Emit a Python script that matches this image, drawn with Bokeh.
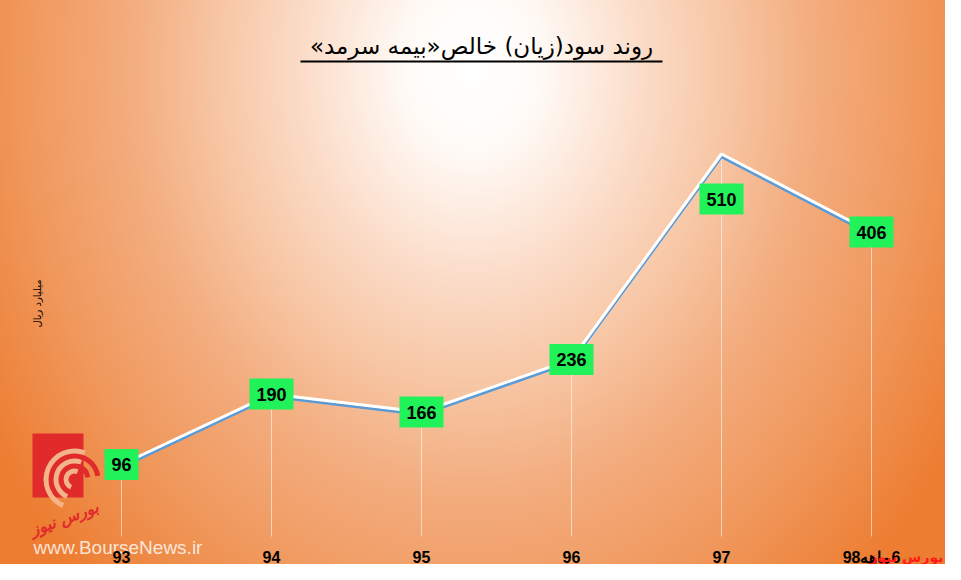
from bokeh.plotting import figure
from bokeh.models import ColumnDataSource, Label, Range1d, FixedTicker, BoxAnnotation
from bokeh.transform import dodge
from bokeh.embed import file_html
from bokeh.resources import INLINE
from bokeh.core.properties import value

# ---------------- data ----------------
categories = ["93", "94", "95", "96", "97", "\u200f6ماهه98"]
profit = [96, 190, 166, 236, 510, 406]
value_labels = ["96", "190", "166", "236", "510", "406"]
title_text = "روند سود(زیان) خالص«بیمه سرمد»\u200f"
y_label_text = "میلیارد ریال"
logo_text = "بورس نیوز"
site_text = "www.BourseNews.ir"

# ---------------- layout / style ----------------
W, H = 945, 564
ZERO_PX = 536.0          # canvas row of value 0
PX_PER_CAT = 150.0
FIRST_CAT_PX = 121.0
PX_PER_UNIT = 0.75
X0 = -FIRST_CAT_PX / PX_PER_CAT
X1 = (W - FIRST_CAT_PX) / PX_PER_CAT
Y0 = -(H - ZERO_PX) / PX_PER_UNIT
Y1 = ZERO_PX / PX_PER_UNIT
label_dy = [0, 0, 0, 0, 45, 0]   # pixel offset of each value box


def px(cx, cy):
    """canvas pixel -> data coordinates (decorations only)"""
    return X0 + cx / PX_PER_CAT, (ZERO_PX - cy) / PX_PER_UNIT


p = figure(width=W, height=H, x_range=Range1d(X0, X1), y_range=Range1d(Y0, Y1),
           toolbar_location=None, output_backend="svg", y_axis_location=None,
           min_border_left=0, min_border_right=0, min_border_top=0,
           min_border_bottom=0, outline_line_color=None,
           background_fill_color=None, border_fill_color=None)
p.styles = {"background": "radial-gradient(ellipse 60% 125% at 50% 12%, #ffffff 0%, "
                          "#fffaf6 12%, #fbdcc8 30%, #f7c6a4 45%, #f3ad7f 60%, "
                          "#f0975b 80%, #ee8a46 90%, #ed7d31 100%)"}
p.xgrid.visible = False
p.ygrid.visible = False

ax = p.xaxis[0]
ax.fixed_location = 0
ax.ticker = FixedTicker(ticks=list(range(len(categories))))
ax.major_label_overrides = {i: c for i, c in enumerate(categories)}
ax.axis_line_color = None
ax.major_tick_line_color = None
ax.minor_tick_line_color = None
ax.major_tick_in = 0
ax.major_tick_out = 0
ax.major_label_standoff = 12
ax.major_label_text_font = "Liberation Sans"
ax.major_label_text_font_style = "bold"
ax.major_label_text_font_size = "16px"
ax.major_label_text_color = "black"

# ---- logo watermark (behind the chart) ----
l0, t0 = px(32, 433)
r0, b0 = px(83, 497)
p.add_layout(BoxAnnotation(left=l0, right=r0, top=t0, bottom=b0, level="underlay",
                           fill_color="#E12B2B", fill_alpha=1, line_color=None))
cx, cy = px(74, 479)
p.annular_wedge(x=[cx] * 3, y=[cy] * 3, inner_radius=[6, 16, 26], outer_radius=[11, 21, 31],
                inner_radius_units="screen", outer_radius_units="screen",
                start_angle=1.2, end_angle=4.3, fill_color="#F4B48A",
                line_color=None)
p.annular_wedge(x=[cx] * 2, y=[cy] * 2, inner_radius=[11, 21], outer_radius=[16, 26],
                inner_radius_units="screen", outer_radius_units="screen",
                start_angle=0.15, end_angle=1.3, fill_color="#E12B2B",
                line_color=None)

src = ColumnDataSource(dict(x=list(range(len(categories))), y=profit,
                            label=value_labels, dy=label_dy))

# drop lines
p.segment(x0="x", y0=0, x1="x", y1="y", source=src, line_color="white",
          line_alpha=0.55, line_width=1)
# line with blue shadow
p.line(x="x", y=dodge("y", -3.5), source=src, line_color="#5B9BD5", line_width=3)
p.line(x="x", y="y", source=src, line_color="white", line_width=3)

# value boxes
p.text(x="x", y="y", text="label", source=src, y_offset="dy",
       text_align="center", text_baseline="middle",
       text_font=value("Liberation Sans"), text_font_style="bold",
       text_font_size="18px", text_color="black",
       background_fill_color="#22F25A", padding=(7, 9), border_line_color=None)

# title with underline
tx, ty = px(481, 45)
p.add_layout(Label(x=tx, y=ty, text=title_text, text_align="center",
                   text_baseline="middle", text_font="DejaVu Sans",
                   text_font_size="23px", text_color="black"))
ux0, uy = px(300, 61)
ux1, _ = px(662, 61)
p.segment(x0=[ux0], y0=[uy], x1=[ux1], y1=[uy], line_color="black", line_width=2)

# y axis title
lx, ly = px(37, 303)
p.add_layout(Label(x=lx, y=ly, text=y_label_text, angle=1.5708,
                   text_align="center", text_baseline="middle",
                   text_font="DejaVu Sans", text_font_size="10px",
                   text_color="black"))

gx, gy = px(64, 518)
p.add_layout(Label(x=gx, y=gy, text=logo_text, angle=0.35, text_align="center",
                   text_baseline="middle", text_font="DejaVu Sans",
                   text_font_style="bold italic", text_font_size="16px",
                   text_color="#E12B2B", level="underlay"))
sx, sy = px(33, 547)
p.add_layout(Label(x=sx, y=sy, text=site_text, text_align="left",
                   text_baseline="middle", text_font="Liberation Sans",
                   text_font_size="19px", text_color="white", text_alpha=0.8,
                   level="underlay"))
wx, wy = px(943, 556)
p.add_layout(Label(x=wx, y=wy, text=logo_text, text_align="right",
                   text_baseline="middle", text_font="DejaVu Sans",
                   text_font_style="bold", text_font_size="14px",
                   text_color="#FF1A1A"))

open("out.html", "w").write(file_html(p, INLINE))
